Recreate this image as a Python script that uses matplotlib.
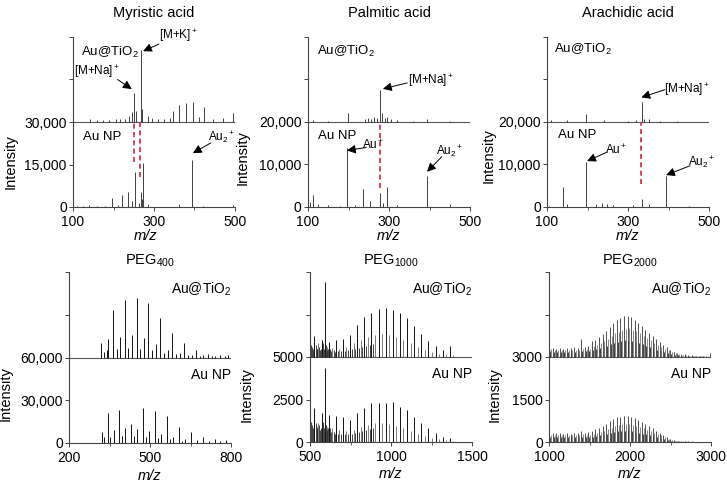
import numpy as np
import matplotlib
matplotlib.use("Agg")
import matplotlib.pyplot as plt

plt.rcParams['font.family'] = ['Liberation Sans', 'DejaVu Sans']
plt.rcParams['mathtext.fontset'] = 'custom'
plt.rcParams['mathtext.rm'] = 'Liberation Sans'
plt.rcParams['mathtext.it'] = 'Liberation Sans:italic'

# ---- fatty acids: peak lists (m/z, intensity) ----
myr_tio2_mz = [142, 160, 175, 190, 205, 215, 228, 238, 245, 251, 255, 267, 271, 285, 296,
               310, 325, 340, 347, 362, 379, 397, 410, 424, 445, 470, 495]
myr_tio2_int = [1200, 600, 800, 700, 900, 1000, 1200, 2200, 3500, 10200, 3800, 25400, 4500, 2000, 1500,
                900, 1200, 1500, 3900, 6000, 6700, 7000, 1800, 5300, 1200, 1400, 3200]
myr_np_mz = [110, 125, 140, 160, 180, 197, 210, 221, 236, 246, 253, 263, 268, 270, 273, 285, 362, 394, 420, 495]
myr_np_int = [500, 400, 600, 300, 400, 3200, 800, 4200, 5300, 2000, 12400, 1500, 5300, 3000, 15500, 1200,
              1000, 16600, 400, 800]

pal_tio2_mz = [112, 150, 198, 240, 247, 255, 262, 270, 279, 283, 290, 296, 305, 320, 360, 394, 450]
pal_tio2_int = [400, 300, 2100, 700, 1000, 800, 1200, 900, 7600, 2000, 900, 1200, 600, 400, 300, 700, 300]
pal_np_mz = [105, 112, 125, 150, 180, 197, 215, 235, 252, 279, 285, 296, 320, 394, 451]
pal_np_int = [1200, 2800, 600, 400, 300, 13800, 500, 4300, 1500, 3300, 1000, 4600, 500, 7400, 600]

ara_tio2_mz = [110, 150, 196, 240, 300, 320, 335, 340, 351, 380, 420]
ara_tio2_int = [500, 400, 1800, 400, 300, 400, 4800, 600, 800, 300, 200]
ara_np_mz = [105, 140, 150, 197, 220, 236, 248, 262, 313, 335, 352, 394, 450]
ara_np_int = [300, 4600, 600, 10600, 800, 900, 700, 500, 400, 1900, 700, 7200, 300]

# ---- PEG 400 ----
peg400_tio2_mz = [318, 362, 406, 450, 494, 538, 582, 626, 670, 714, 758, 790,
                  330, 346, 390, 434, 478, 522, 566, 610, 654, 698, 742, 776,
                  340, 376, 420, 464, 508, 552, 596, 640, 684, 728]
peg400_tio2_int = [9900, 33400, 40200, 41600, 37900, 27500, 16900, 9900, 5600, 2800, 2100, 1800,
                   4000, 12700, 14600, 15500, 13600, 9200, 5600, 3500, 2000, 1500, 1200, 1000,
                   5000, 6000, 6500, 6000, 5000, 3500, 2500, 1500, 1000, 800]
peg400_np_mz = [321, 343, 387, 431, 475, 519, 563, 607, 651, 695, 739, 783,
                330, 365, 409, 453, 497, 541, 585, 629, 673, 717, 761,
                353, 397, 441, 485, 529, 573, 617]
peg400_np_int = [7500, 21400, 23300, 13000, 24500, 22800, 18600, 11500, 7500, 4000, 2500, 2000,
                 4000, 9000, 10500, 9500, 8500, 6000, 4000, 3000, 2000, 1500, 1200,
                 4500, 5000, 5000, 4500, 3500, 2500, 1500]

# ---- PEG 1000 ----
peg1000_main_mz = [527, 571, 593, 615, 659, 703, 747, 791, 835, 879, 923, 967, 1011, 1055,
                   1099, 1143, 1187, 1231, 1275, 1319, 1363]
peg1000_tio2_main = [1230, 1000, 4400, 900, 1000, 1060, 1290, 1880, 2330, 2600, 2820, 2860, 2760, 2570,
                     2270, 1820, 1350, 960, 650, 410, 650]
peg1000_np_main = [2020, 1690, 4330, 1590, 1530, 1450, 1290, 1690, 2020, 2270, 2310, 2310, 2370, 2080,
                   1880, 1490, 1100, 800, 510, 310, 220]
peg1000_side_mz = [549, 604, 637, 681, 725, 769, 813, 857, 901, 945, 989, 1033, 1077, 1121,
                   1165, 1209, 1253, 1297, 1341, 1385]
peg1000_tio2_side = [800, 600, 550, 500, 600, 800, 1000, 1200, 1300, 1350, 1300, 1200, 1000, 800,
                     600, 400, 300, 200, 150, 100]
peg1000_np_side = [1100, 900, 800, 700, 650, 700, 900, 1000, 1100, 1100, 1050, 950, 800, 650,
                   500, 350, 250, 150, 100, 80]
peg1000_low_mz = [503, 508, 512, 518, 523, 535, 541, 546, 556, 562, 567, 580, 585, 590, 600, 605,
                  612, 625, 630, 648, 653, 670, 692, 714, 736, 758, 780, 802, 824, 846, 868, 890]
peg1000_tio2_low = [900, 700, 600, 500, 650, 700, 500, 450, 600, 400, 450, 800, 500, 400, 700, 400,
                    450, 500, 350, 400, 300, 350, 350, 350, 400, 450, 500, 550, 600, 650, 700, 750]
peg1000_np_low = [1500, 1200, 1000, 800, 1000, 1100, 900, 700, 1000, 700, 800, 1200, 800, 700, 1000, 700,
                  800, 800, 600, 600, 500, 500, 500, 450, 450, 500, 550, 600, 650, 700, 750, 800]

# ---- PEG 2000 ----
peg2000_mz = [1002, 1046, 1090, 1134, 1178, 1222, 1266, 1310, 1354, 1398, 1442, 1486, 1530, 1574,
              1618, 1662, 1706, 1750, 1794, 1838, 1882, 1926, 1970, 2014, 2058, 2102, 2146, 2190,
              2234, 2278, 2322, 2366, 2410, 2454, 2498, 2542, 2586, 2630, 2674, 2718, 2762, 2806,
              2850, 2894, 2938, 2982]
peg2000_tio2_main = [380, 330, 300, 320, 300, 330, 310, 340, 330, 620, 360, 400, 560, 600,
                     720, 800, 930, 1060, 1190, 1300, 1380, 1440, 1460, 1400, 1320, 1200, 1080, 960,
                     850, 740, 630, 540, 430, 340, 260, 190, 140, 110, 90, 70, 60, 50,
                     40, 40, 30, 150]
peg2000_tio2_side = [280, 250, 230, 240, 230, 250, 240, 250, 250, 280, 280, 300, 380, 420,
                     500, 560, 650, 740, 830, 900, 960, 1000, 1010, 970, 910, 830, 750, 660,
                     590, 510, 440, 370, 300, 230, 180, 130, 100, 80, 60, 50, 40, 30,
                     30, 30, 20, 20]
peg2000_tio2_third = [200, 180, 170, 180, 170, 180, 170, 180, 180, 200, 200, 210, 250, 280,
                      320, 350, 400, 450, 500, 540, 570, 590, 600, 580, 540, 500, 450, 400,
                      350, 310, 260, 220, 180, 140, 110, 80, 60, 50, 40, 30, 25, 20,
                      20, 20, 15, 15]
peg2000_np_main = [330, 320, 310, 330, 300, 320, 300, 310, 330, 400, 330, 360, 400, 450,
                   500, 560, 650, 740, 800, 870, 900, 920, 910, 880, 840, 780, 700, 640,
                   560, 480, 400, 330, 250, 170, 110, 70, 50, 40, 30, 20, 20, 15,
                   10, 10, 10, 10]
peg2000_np_side = [250, 240, 230, 250, 230, 240, 230, 230, 250, 280, 250, 260, 280, 310,
                   350, 390, 450, 510, 560, 600, 620, 640, 630, 610, 580, 540, 490, 440,
                   390, 330, 280, 230, 170, 120, 80, 50, 35, 25, 20, 15, 10, 10,
                   8, 8, 8, 8]
peg2000_np_third = [180, 170, 170, 180, 170, 170, 170, 170, 180, 190, 180, 180, 190, 210,
                    230, 250, 290, 320, 350, 380, 390, 400, 400, 380, 360, 330, 300, 270,
                    240, 200, 170, 140, 100, 70, 50, 30, 20, 15, 10, 10, 8, 8,
                    5, 5, 5, 5]

W, H = 727, 484
fig = plt.figure(figsize=(W / 100, H / 100), dpi=100)


def make_ax(left, top, bottom, xlim, xmajor, xminor, offset, step, ylabels, title):
    ax = fig.add_axes([left / W, 1 - bottom / H, 162 / W, (bottom - top) / H])
    ymax = 2 * offset
    ax.set_xlim(*xlim)
    ax.set_ylim(0, ymax)
    ax.set_xticks(xmajor)
    ax.set_xticks(xminor, minor=True)
    ax.set_yticks([0, step, offset, offset + step, ymax])
    ax.set_yticklabels(ylabels + ['', ''])
    for s in ['top', 'right']:
        ax.spines[s].set_visible(False)
    for s in ['left', 'bottom']:
        ax.spines[s].set_linewidth(0.8)
        ax.spines[s].set_color('#444444')
    ax.tick_params(axis='both', which='major', length=3, width=0.7, color='#444444',
                   labelsize=10, pad=1.5)
    ax.tick_params(axis='x', which='major', pad=2.5)
    ax.tick_params(axis='x', which='minor', length=2, width=0.6, color='#444444')
    ax.axhline(offset, color='#555555', lw=0.8, zorder=1)
    ax.text(0.5, 1 + (24 / (bottom - top) if top < 100 else 11 / (bottom - top)), title,
            transform=ax.transAxes, ha='center', va='center', fontsize=10.5)
    ax.set_ylabel('Intensity', fontsize=10.5)
    ax.set_xlabel('m/z', fontsize=10.5, fontstyle='italic')
    return ax


def peaks(ax, mz, inten, base, color='#222222', lw=0.6):
    ax.vlines(mz, base, base + np.array(inten), colors=color, lw=lw, zorder=2)


def arrow(ax, head, tail):
    ax.annotate('', xy=head, xytext=tail, annotation_clip=False,
                arrowprops=dict(arrowstyle='-|>', color='k', lw=0.7, mutation_scale=13,
                                shrinkA=0, shrinkB=0))


def note(ax, x, y, s, size=8.5, ha='center'):
    ax.text(x, y, s, ha=ha, va='center', fontsize=size, clip_on=False)


red = '#d7263d'

# Myristic acid
ax1 = make_ax(73, 37, 207, (100, 500), [100, 300, 500], [200, 400], 30000, 15000,
              ['0', '15,000', '30,000'], 'Myristic acid')
peaks(ax1, myr_tio2_mz, myr_tio2_int, 30000)
peaks(ax1, myr_np_mz, myr_np_int, 0)
ax1.vlines([251], 16000, 30000, colors=red, linestyles=(0, (3, 2)), lw=1.2, zorder=3)
ax1.vlines([266], 10500, 30000, colors=red, linestyles=(0, (3, 2)), lw=1.2, zorder=3)
note(ax1, 191, 54400, 'Au@TiO$_2$', 9.5)
note(ax1, 360, 60500, '[M+K]$^+$')
arrow(ax1, (273, 55000), (312, 57500))
note(ax1, 159, 47700, '[M+Na]$^+$')
arrow(ax1, (245, 41600), (210, 45000))
note(ax1, 171, 24700, 'Au NP', 9.5)
note(ax1, 468, 24600, 'Au$_2$$^+$')
arrow(ax1, (396, 19000), (440, 22600))
ax1.yaxis.set_label_coords(-0.34, 0.265)
ax1.xaxis.set_label_coords(0.45, -0.13)

# Palmitic acid
ax2 = make_ax(308, 37, 207, (100, 500), [100, 300, 500], [200, 400], 20000, 10000,
              ['0', '10,000', '20,000'], 'Palmitic acid')
peaks(ax2, pal_tio2_mz, pal_tio2_int, 20000)
peaks(ax2, pal_np_mz, pal_np_int, 0)
ax2.vlines([279], 4500, 20000, colors=red, linestyles=(0, (3, 2)), lw=1.2, zorder=3)
note(ax2, 193, 36600, 'Au@TiO$_2$', 9.5)
note(ax2, 404, 29800, '[M+Na]$^+$')
arrow(ax2, (285, 27800), (345, 29200))
note(ax2, 171, 16700, 'Au NP', 9.5)
note(ax2, 262, 14500, 'Au$^+$')
arrow(ax2, (196, 13300), (244, 14000))
note(ax2, 450, 13100, 'Au$_2$$^+$')
arrow(ax2, (394, 8300), (430, 11800))
ax2.yaxis.set_label_coords(-0.36, 0.29)
ax2.xaxis.set_label_coords(0.5, -0.13)

# Arachidic acid
ax3 = make_ax(547, 37, 207, (100, 500), [100, 300, 500], [200, 400], 20000, 10000,
              ['0', '10,000', '20,000'], 'Arachidic acid')
peaks(ax3, ara_tio2_mz, ara_tio2_int, 20000)
peaks(ax3, ara_np_mz, ara_np_int, 0)
ax3.vlines([333], 5300, 20000, colors=red, linestyles=(0, (3, 2)), lw=1.2, zorder=3)
note(ax3, 189, 37100, 'Au@TiO$_2$', 9.5)
note(ax3, 446, 27700, '[M+Na]$^+$')
arrow(ax3, (333, 25800), (391, 27600))
note(ax3, 174, 16900, 'Au NP', 9.5)
note(ax3, 270, 13300, 'Au$^+$')
arrow(ax3, (199, 10800), (248, 12900))
note(ax3, 482, 10600, 'Au$_2$$^+$')
arrow(ax3, (394, 7500), (453, 9700))
ax3.yaxis.set_label_coords(-0.32, 0.30)
ax3.xaxis.set_label_coords(0.5, -0.13)

# PEG400
ax4 = make_ax(69, 272, 443, (200, 800), [200, 500, 800], [350, 650], 60000, 30000,
              ['0', '30,000', '60,000'], 'PEG$_{400}$')
peaks(ax4, peg400_tio2_mz, peg400_tio2_int, 60000, '#111111', 0.7)
peaks(ax4, peg400_np_mz, peg400_np_int, 0, '#111111', 0.7)
note(ax4, 800, 108000, 'Au@TiO$_2$', 10, ha='right')
note(ax4, 800, 48000, 'Au NP', 10, ha='right')
ax4.yaxis.set_label_coords(-0.345, 0.29)
ax4.xaxis.set_label_coords(0.5, -0.15)

# PEG1000
ax5 = make_ax(310, 272, 442, (500, 1500), [500, 1000, 1500], [750, 1250], 5000, 2500,
              ['0', '2500', '5000'], 'PEG$_{1000}$')
peaks(ax5, peg1000_side_mz, peg1000_tio2_side, 5000, '#666666', 0.6)
peaks(ax5, peg1000_low_mz, peg1000_tio2_low, 5000, '#222222', 0.6)
peaks(ax5, peg1000_main_mz, peg1000_tio2_main, 5000, '#111111', 0.7)
peaks(ax5, peg1000_side_mz, peg1000_np_side, 0, '#666666', 0.6)
peaks(ax5, peg1000_low_mz, peg1000_np_low, 0, '#222222', 0.6)
peaks(ax5, peg1000_main_mz, peg1000_np_main, 0, '#111111', 0.7)
note(ax5, 1500, 9000, 'Au@TiO$_2$', 10, ha='right')
note(ax5, 1500, 4000, 'Au NP', 10, ha='right')
ax5.yaxis.set_label_coords(-0.35, 0.28)
ax5.xaxis.set_label_coords(0.5, -0.15)

# PEG2000
ax6 = make_ax(549, 272, 442, (1000, 3000), [1000, 2000, 3000], [1500, 2500], 3000, 1500,
              ['0', '1500', '3000'], 'PEG$_{2000}$')
side_mz = np.array(peg2000_mz) + 22
third_mz = np.array(peg2000_mz) + 11
peaks(ax6, third_mz, peg2000_tio2_third, 3000, '#222222', 0.6)
peaks(ax6, side_mz, peg2000_tio2_side, 3000, '#777777', 0.6)
peaks(ax6, peg2000_mz, peg2000_tio2_main, 3000, '#333333', 0.6)
peaks(ax6, third_mz, peg2000_np_third, 0, '#222222', 0.6)
peaks(ax6, side_mz, peg2000_np_side, 0, '#777777', 0.6)
peaks(ax6, peg2000_mz, peg2000_np_main, 0, '#333333', 0.6)
note(ax6, 3000, 5400, 'Au@TiO$_2$', 10, ha='right')
note(ax6, 3000, 2400, 'Au NP', 10, ha='right')
ax6.yaxis.set_label_coords(-0.29, 0.28)
ax6.xaxis.set_label_coords(0.5, -0.15)

fig.savefig('out.png', dpi=100)
